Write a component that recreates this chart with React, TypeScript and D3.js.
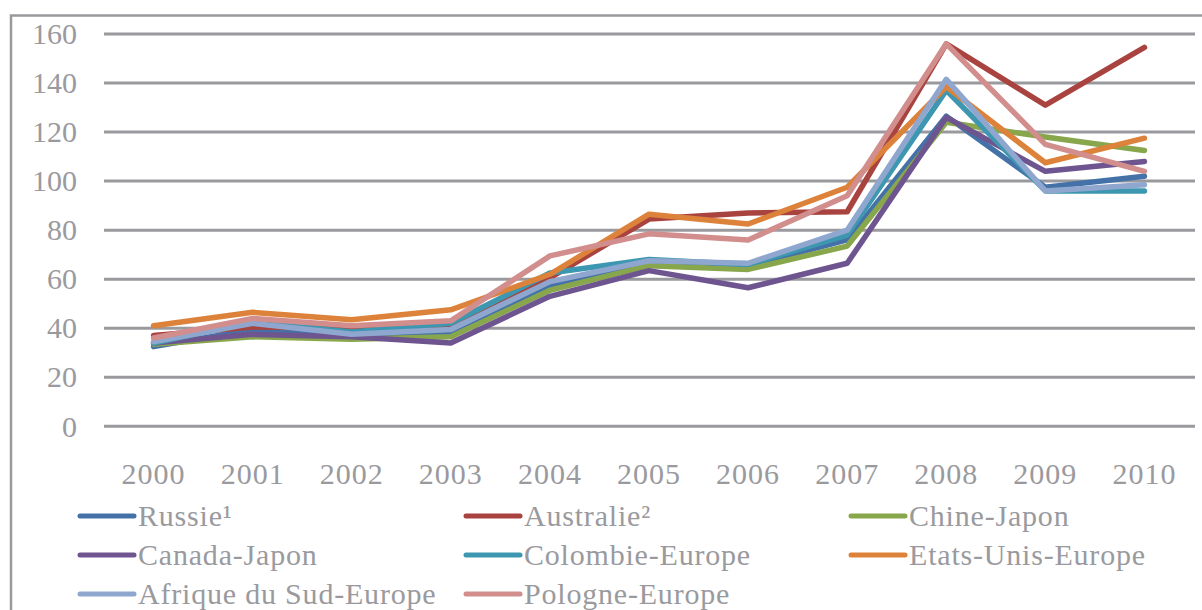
import * as d3 from "d3";
import { useEffect, useRef } from "react";

const years = ["2000", "2001", "2002", "2003", "2004", "2005", "2006", "2007", "2008", "2009", "2010"];

const russie = [32.5, 39.5, 36.5, 38, 57.5, 67, 65.5, 76, 126.5, 97.5, 102];
const australie = [37, 40.5, 40, 41, 60.5, 84.5, 87, 87.5, 156, 131, 154.5];
const chineJapon = [33.5, 36.5, 35.5, 36.5, 55.5, 65.5, 64, 73.5, 124, 118, 112.5];
const canadaJapon = [34, 37.5, 36.5, 34, 53, 63.5, 56.5, 66.5, 126, 104, 108];
const colombieEurope = [34, 42.5, 38.5, 42, 62.5, 68, 66, 78, 137, 96, 96];
const etatsUnisEurope = [41, 46.5, 43.5, 47.5, 62, 86.5, 82.5, 97.5, 138.5, 107.5, 117.5];
const afriqueEurope = [34.5, 42, 37.5, 39.5, 59, 67.5, 66.5, 80, 141.5, 96, 98.5];
const pologneEurope = [36, 44, 41, 43, 69.5, 78.5, 76, 94, 156, 115, 104];

const seriesNames = [
  "Russie¹",
  "Australie²",
  "Chine-Japon",
  "Canada-Japon",
  "Colombie-Europe",
  "Etats-Unis-Europe",
  "Afrique du Sud-Europe",
  "Pologne-Europe",
];
const seriesValues = [
  russie,
  australie,
  chineJapon,
  canadaJapon,
  colombieEurope,
  etatsUnisEurope,
  afriqueEurope,
  pologneEurope,
];
const seriesColors = ["#4472a8", "#a9433f", "#88a64b", "#6e5590", "#3d97b0", "#dd823a", "#8fa7cf", "#d18e8d"];

const yTicks = [0, 20, 40, 60, 80, 100, 120, 140, 160];

function App() {
  const ref = useRef<SVGSVGElement>(null);

  useEffect(() => {
    const width = 1202;
    const height = 610;
    const gray = "#9a9a9e";
    const font = "'Liberation Serif', 'Times New Roman', serif";

    const svg = d3.select(ref.current).attr("width", width).attr("height", height);
    svg.selectAll("*").remove();

    // outer frame (only top + left visible)
    svg
      .append("path")
      .attr("d", `M11,${height + 5}V15.5H${width + 5}`)
      .attr("fill", "none")
      .attr("stroke", gray)
      .attr("stroke-width", 2.5);

    const x = d3.scaleBand<string>().domain(years).range([104, 1194]);
    const y = d3.scaleLinear().domain([0, 160]).range([426.3, 34]);

    // grid
    svg
      .append("g")
      .selectAll("line")
      .data(yTicks)
      .join("line")
      .attr("x1", 104)
      .attr("x2", 1195)
      .attr("y1", (d) => y(d))
      .attr("y2", (d) => y(d))
      .attr("stroke", gray)
      .attr("stroke-width", 3);

    // y labels
    svg
      .append("g")
      .attr("font-family", font)
      .attr("font-size", 30)
      .attr("fill", gray)
      .attr("text-anchor", "end")
      .selectAll("text")
      .data(yTicks)
      .join("text")
      .attr("x", 77)
      .attr("y", (d) => y(d))
      .attr("dy", "0.34em")
      .text((d) => d);

    // x labels
    svg
      .append("g")
      .attr("font-family", font)
      .attr("font-size", 30)
      .attr("letter-spacing", 1)
      .attr("fill", gray)
      .attr("text-anchor", "middle")
      .selectAll("text")
      .data(years)
      .join("text")
      .attr("x", (d) => (x(d) ?? 0) + x.bandwidth() / 2)
      .attr("y", 484)
      .text((d) => d);

    const line = d3
      .line<number>()
      .x((_, i) => (x(years[i]) ?? 0) + x.bandwidth() / 2)
      .y((d) => y(d));

    svg
      .append("g")
      .selectAll("path")
      .data(seriesValues)
      .join("path")
      .attr("d", (d) => line(d))
      .attr("fill", "none")
      .attr("stroke", (_, i) => seriesColors[i])
      .attr("stroke-width", 5.5)
      .attr("stroke-linecap", "round")
      .attr("stroke-linejoin", "round");

    // legend, 3 columns
    const colX = [80, 466, 851];
    const rowY = [516, 555, 594];
    const legend = svg
      .append("g")
      .selectAll("g")
      .data(seriesNames)
      .join("g")
      .attr("transform", (_, i) => `translate(${colX[i % 3]},${rowY[Math.floor(i / 3)]})`);

    legend
      .append("line")
      .attr("x1", 0)
      .attr("x2", 54)
      .attr("stroke", (_, i) => seriesColors[i])
      .attr("stroke-width", 5)
      .attr("stroke-linecap", "round");

    legend
      .append("text")
      .attr("x", 58)
      .attr("dy", "0.34em")
      .attr("font-family", font)
      .attr("font-size", 30)
      .attr("letter-spacing", 0.8)
      .attr("fill", gray)
      .text((d) => d);

    return () => {
      d3.select(ref.current).selectAll("*").remove();
    };
  }, []);

  return (
    <div>
      <svg ref={ref} style={{ position: "absolute", left: 0, top: 0, background: "#fff" }}></svg>
    </div>
  );
}

export default App;
